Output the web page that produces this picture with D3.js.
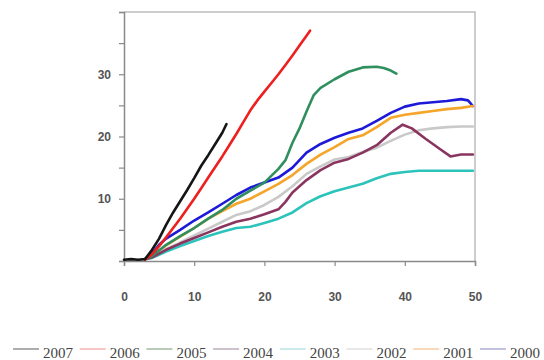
<!DOCTYPE html>
<html><head><meta charset="utf-8">
<script src="https://cdn.jsdelivr.net/npm/d3@7"></script>
<style>body{margin:0;background:#fff}svg{display:block}</style>
</head><body>
<svg id="c" width="544" height="360"></svg>
<script>
const years = ["2007","2006","2005","2004","2003","2002","2001","2000"];
const colors = ["#151515","#ee1f1f","#2f8f5e","#8a3560","#2cc3bb","#c9c9c9","#f5a52a","#1c1ad8"];
const legendColors = ["#777","#f3a0a0","#8aa88a","#a89aa8","#a8dede","#d8d8d8","#f6c08a","#9a98c8"];
const xTicks = [0,10,20,30,40,50];
const yTicks = [0,5,10,15,20,25,30,35,40];
const yLabels = [10,20,30];

const s2007 = [[0,0.2],[1,0.3],[2,0.2],[3,0.3],[4,1.8],[5,3.6],[6,5.8],[7,7.8],[8,9.6],[9,11.4],[10,13.3],[11,15.3],[12,17],[13,18.8],[14,20.6],[14.6,22]];
const s2006 = [[3,0.2],[4,1.1],[5,2.4],[6,3.8],[7,5.3],[8,6.8],[9,8.4],[10,10],[11,11.7],[12,13.4],[13,15.1],[14,16.8],[15,18.6],[16,20.4],[17,22.3],[18,24.2],[19,25.8],[20,27.2],[21,28.6],[22,30],[23,31.5],[24,33],[25,34.6],[26,36.2],[26.5,37]];
const s2005 = [[3,0.3],[4,0.8],[6,2.6],[8,4],[10,5.3],[12,6.8],[14,8.2],[16,10],[18,11.3],[20,12.6],[22,14.8],[23,16.2],[24,19],[25,21.3],[26,24],[27,26.6],[28,27.8],[30,29.2],[32,30.4],[34,31.1],[36,31.2],[37,31],[38,30.6],[38.8,30.1]];
const s2004 = [[3,0.3],[4,0.6],[6,1.8],[8,2.8],[10,3.7],[12,4.6],[14,5.5],[16,6.3],[18,6.8],[20,7.5],[22,8.3],[23,9.5],[24,11],[26,13],[28,14.6],[30,15.8],[32,16.4],[34,17.4],[36,18.6],[38,20.6],[39.7,21.9],[41,21.3],[43,19.6],[45,18],[46.5,16.8],[48,17.1],[49.7,17.1]];
const s2003 = [[3,0.3],[4,0.5],[6,1.5],[8,2.4],[10,3.2],[12,4],[14,4.7],[16,5.3],[18,5.5],[20,6.1],[22,6.8],[24,7.8],[26,9.3],[28,10.4],[30,11.2],[32,11.8],[34,12.4],[36,13.3],[38,14],[40,14.3],[42,14.5],[46,14.5],[49.7,14.5]];
const s2002 = [[3,0.3],[4,0.7],[6,1.9],[8,3],[10,4.1],[12,5.2],[14,6.3],[16,7.4],[18,8],[20,9],[22,10.3],[24,12],[26,14],[28,15.2],[30,16.3],[32,16.7],[34,17.5],[36,18.2],[38,19.3],[40,20.3],[42,21],[44,21.3],[46,21.5],[48,21.6],[49.7,21.6]];
const s2001 = [[3,0.3],[4,0.8],[6,2.5],[8,3.9],[10,5.3],[12,6.8],[14,8],[16,9.2],[18,10],[20,11.2],[22,12.4],[24,13.8],[26,15.6],[28,17.1],[30,18.3],[32,19.6],[34,20.2],[36,21.5],[38,23],[40,23.5],[42,23.8],[44,24.1],[46,24.4],[48,24.6],[49.7,24.9]];
const s2000 = [[3,0.3],[4,1.2],[5,2.6],[6,3.6],[8,5],[10,6.5],[12,7.8],[14,9.2],[16,10.6],[18,11.8],[20,12.6],[22,13.4],[24,15],[26,17.4],[28,18.8],[30,19.8],[32,20.6],[34,21.3],[36,22.5],[38,23.8],[40,24.8],[42,25.3],[44,25.5],[46,25.7],[48,26],[49,25.8],[49.7,24.9]];
const seriesData = [s2007,s2006,s2005,s2004,s2003,s2002,s2001,s2000];

const svg = d3.select("#c");
const L=124, R=475, T=12, B=261;
const x = d3.scaleLinear().domain([0,50]).range([L,R]);
const y = d3.scaleLinear().domain([0,40]).range([B,T]);

svg.append("path").attr("d",`M${L},${T}H${R}V${B}`).attr("fill","none").attr("stroke","#bdbdbd").attr("stroke-width",1.5);

const xAxis = svg.append("g").attr("transform",`translate(0,${B})`)
  .call(d3.axisBottom(x).tickValues(xTicks).tickSize(5).tickPadding(26).tickFormat(d3.format("d")));
const yAxis = svg.append("g").attr("transform",`translate(${L},0)`)
  .call(d3.axisLeft(y).tickValues(yTicks).tickSize(5).tickPadding(8).tickFormat(d=>yLabels.includes(d)?d:""));
[xAxis,yAxis].forEach(g=>{
  g.select(".domain").attr("stroke","#8a8a8a").attr("stroke-width",1.5);
  g.selectAll(".tick line").attr("stroke","#8a8a8a").attr("stroke-width",1.2);
  g.selectAll("text").attr("fill","#555").style("font-family","Liberation Sans, Arial, sans-serif").style("font-size","12px").style("font-weight","bold");
});

const line = d3.line().x(d=>x(d[0])).y(d=>y(d[1]));
for (let i=seriesData.length-1;i>=0;i--){
  svg.append("path").datum(seriesData[i]).attr("d",line)
    .attr("fill","none").attr("stroke",colors[i]).attr("stroke-width",2.6)
    .attr("stroke-linejoin","round").attr("stroke-linecap","round");
}

const lg = svg.append("g");
years.forEach((yr,i)=>{
  const x0 = 13 + i*66.7;
  lg.append("line").attr("x1",x0).attr("x2",x0+26).attr("y1",349).attr("y2",349)
    .attr("stroke",legendColors[i]).attr("stroke-width",1.2);
  lg.append("text").attr("x",x0+30).attr("y",358).text(yr)
    .attr("fill","#444").style("font-family","Liberation Serif, Times New Roman, serif").style("font-size","15px");
});
</script>
</body></html>
